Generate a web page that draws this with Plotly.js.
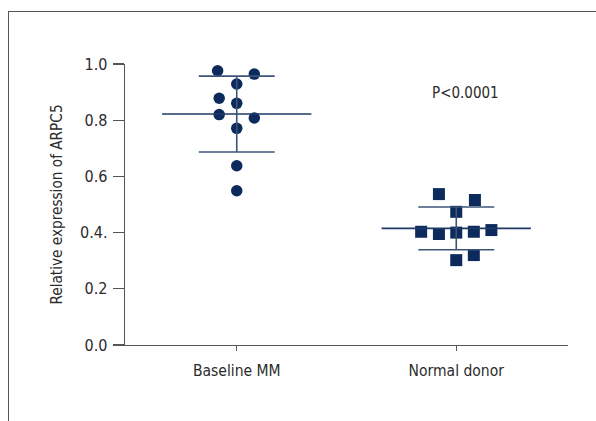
<!DOCTYPE html>
<html>
<head>
<meta charset="utf-8">
<script src="https://cdn.plot.ly/plotly-3.0.1.min.js"></script>
<style>
  html, body { margin: 0; padding: 0; background: #fff; }
  #wrap { position: relative; width: 596px; height: 421px; overflow: hidden; }
  #chart { position: absolute; left: 0; top: 0; width: 596px; height: 421px; }
  #frame { position: absolute; left: 8px; top: 11px; width: 700px; height: 500px;
           border-left: 1px solid #555; border-top: 1px solid #555; pointer-events: none; }
</style>
</head>
<body>
<div id="wrap">
  <div id="chart"></div>
  <div id="frame"></div>
</div>
<script>
// Groups on the x axis
const groups = ["Baseline MM", "Normal donor"];

// Relative ARPC5 expression per sample
const baselineMM = [0.976, 0.964, 0.929, 0.878, 0.860, 0.820, 0.808, 0.771, 0.638, 0.549];
const normalDonor = [0.537, 0.516, 0.474, 0.403, 0.395, 0.400, 0.403, 0.409, 0.320, 0.302];

// Horizontal spread of the dots within each group (category units)
const baselineSpread = [-0.087, 0.08, 0, -0.08, 0, -0.08, 0.08, 0, 0, 0];
const normalSpread = [-0.079, 0.085, 0, -0.16, -0.079, 0, 0.08, 0.16, 0.08, 0];

// Group mean and standard deviation
const groupMeans = [0.822, 0.415];
const groupSD = [0.135, 0.076];

// Y tick labels
const yTickVals = [0, 0.2, 0.4, 0.6, 0.8, 1.0];
const yTickText = ["0.0", "0.2", "0.4.", "0.6", "0.8", "1.0"];

const pText = "P<0.0001";

const navy = "#0c2b5c";
const FONT = "'DejaVu Sans Condensed', 'Liberation Sans Narrow', Arial, sans-serif";

const traces = [];

traces.push({
  type: "scatter", mode: "markers",
  x: baselineMM.map((v, i) => 0 + baselineSpread[i]), y: baselineMM,
  marker: { symbol: "circle", size: 11.5, color: navy },
  cliponaxis: false, hoverinfo: "y"
});
traces.push({
  type: "scatter", mode: "markers",
  x: normalDonor.map((v, i) => 1 + normalSpread[i]), y: normalDonor,
  marker: { symbol: "square", size: 12, color: navy },
  cliponaxis: false, hoverinfo: "y"
});

// Mean line, SD caps and the vertical SD bar for each group
const meanHalf = 0.34, capHalf = 0.173;
groupMeans.forEach((m, g) => {
  const lo = m - groupSD[g], hi = m + groupSD[g];
  traces.push({
    type: "scatter", mode: "lines",
    x: [g - meanHalf, g + meanHalf], y: [m, m],
    line: { color: "#1d3a66", width: 1.6 }, hoverinfo: "skip"
  });
  traces.push({
    type: "scatter", mode: "lines",
    x: [g - capHalf, g + capHalf, null, g - capHalf, g + capHalf, null, g, g],
    y: [hi, hi, null, lo, lo, null, lo, hi],
    line: { color: "#3c5478", width: 1.6 }, hoverinfo: "skip"
  });
});

const layout = {
  width: 596, height: 421,
  margin: { l: 125, r: 28, t: 64, b: 76, pad: 0 },
  paper_bgcolor: "rgba(0,0,0,0)", plot_bgcolor: "rgba(0,0,0,0)",
  showlegend: false,
  font: { family: FONT, color: "#2b2b2b", size: 16 },
  xaxis: {
    range: [-0.509, 1.509], showgrid: false, zeroline: false,
    showline: true, linecolor: "#555", linewidth: 1.3,
    tickvals: [0, 1], ticktext: groups,
    ticks: "outside", ticklen: 5, tickcolor: "#555", tickwidth: 1.3,
    ticklabelstandoff: 6,
    tickfont: { size: 15.5, family: FONT, color: "#2b2b2b" }
  },
  yaxis: {
    range: [0, 1.0], showgrid: false, zeroline: false,
    showline: true, linecolor: "#555", linewidth: 1.3,
    tickvals: yTickVals, ticktext: yTickText,
    ticks: "outside", ticklen: 11, tickcolor: "#555", tickwidth: 1.3,
    ticklabelstandoff: 2,
    tickfont: { size: 16, family: FONT, color: "#2b2b2b" },
    title: { text: "Relative expression of ARPC5", font: { size: 15.2, family: FONT, color: "#2b2b2b" }, standoff: 13 }
  },
  annotations: [{
    x: 1.041, y: 0.897, xref: "x", yref: "y", text: pText, showarrow: false,
    font: { size: 15, family: FONT, color: "#2b2b2b" }
  }]
};

Plotly.newPlot("chart", traces, layout, { displayModeBar: false, staticPlot: true });
</script>
</body>
</html>
